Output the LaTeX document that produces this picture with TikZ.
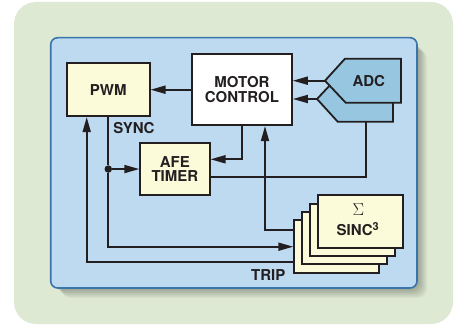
\documentclass[tikz,border=0pt]{standalone}
\usepackage{fontspec}
\setmainfont{TeX Gyre Heros}
\usetikzlibrary{arrows.meta,calc}
\definecolor{bggreen}{RGB}{221,233,210}
\definecolor{panelblue}{RGB}{189,218,240}
\definecolor{paneledge}{RGB}{58,116,170}
\definecolor{boxyellow}{RGB}{251,251,218}
\definecolor{adcblue}{RGB}{150,198,224}
\definecolor{ink}{RGB}{35,31,32}
\begin{document}
\begin{tikzpicture}[x=1pt,y=-1pt,
  box/.style={draw=ink,line width=1.8pt,fill=boxyellow,inner sep=0pt,anchor=north west,
    font=\fontsize{15}{14.7}\selectfont\bfseries,text=ink,align=center},
  wire/.style={draw=ink,line width=1.8pt},
  arr/.style={wire,-{Triangle[length=15pt,width=8pt]}},
  lbl/.style={font=\fontsize{15}{14.7}\selectfont\bfseries,text=ink,align=center,inner sep=0pt},
  dot/.style={circle,fill=ink,inner sep=0pt,minimum size=7.5pt},
  adcshape/.style={draw=ink,line width=1.8pt,fill=adcblue,line join=miter},
]
\useasboundingbox (0,0) rectangle (463,326);
% backgrounds
\fill[bggreen, rounded corners=22pt] (14,2) rectangle (453,324);
\foreach \k in {0,...,9}
  \fill[black, opacity=0.03, rounded corners=9pt] (53+\k,41+\k) rectangle (418+\k,289+\k);
\draw[paneledge, line width=1.6pt, fill=panelblue, rounded corners=7pt]
  (50.7,37.7) rectangle (417,288);

% boxes
\node[box, minimum width=82.7pt, minimum height=53pt] (pwm) at (66,62.3) {PWM};
\node[box, fill=white, minimum width=100pt, minimum height=71pt] (mc) at (191,53.3) {MOTOR\\CONTROL};
\node[box, minimum width=69.4pt, minimum height=51.7pt] (afe) at (139.3,142.3) {AFE\\TIMER};

% sinc stack
\node[box, minimum width=84.4pt, minimum height=52.4pt] (s4) at (293.3,219.3) {};
\node[box, minimum width=84.4pt, minimum height=52.4pt] (s3) at (301.3,211) {};
\node[box, minimum width=84.4pt, minimum height=52.4pt] (s2) at (309.3,202.7) {};
\node[box, minimum width=84.4pt, minimum height=52.4pt] (s1) at (317.3,194.3) {};
\node[text=ink, inner sep=0pt] (sig) at (358.5,209.5) {\fontsize{16}{16}\selectfont$\Sigma$};
\node[lbl] (sinc) at (358,229.3) {SINC\textsuperscript{\fontsize{11}{11}\selectfont 3}};

% ADC
\coordinate (adcB) at (317,99);
\coordinate (adcF) at (325,80.7);
\filldraw[adcshape] (adcB) -- (337,77.7) -- (393,77.7) -- (393,121.7) -- (337.7,121.7) -- cycle;
\filldraw[adcshape] (adcF) -- (345,58.7) -- (401,58.7) -- (401,102.7) -- (345.7,102.7) -- cycle;
\node[lbl] (adc) at (368.8,80.8) {ADC};
\coordinate (adcbot) at (366,121.7);

% connectors
\draw[arr] (adcF) -- (mc.east |- adcF);
\draw[arr] (adcB) -- (mc.east |- adcB);
\draw[arr] (mc.west |- pwm.east) -- (pwm.east);
\node[dot] (j) at (pwm.south |- afe.west) {};
\draw[wire] (pwm.south) -- (j);
\draw[arr] (j) -- (afe.west);
\draw[arr] (j) |- (s4.west |- 0,246.7);
\draw[arr] (mc.south) |- (afe.east |- 0,159.3);
\draw[wire] (afe.east |- 0,176.7) -| (adcbot);
\draw[arr] (s4.west |- 0,230) -| ($(mc.south west)+(74,0)$);
\draw[arr] (s4.west |- 0,262) -| ($(pwm.south west)+(20.7,0)$);

% labels
\node[lbl] (sync) at (134,127.7) {SYNC};
\node[lbl] (trip) at (268.3,274.8) {TRIP};
\end{tikzpicture}
\end{document}
